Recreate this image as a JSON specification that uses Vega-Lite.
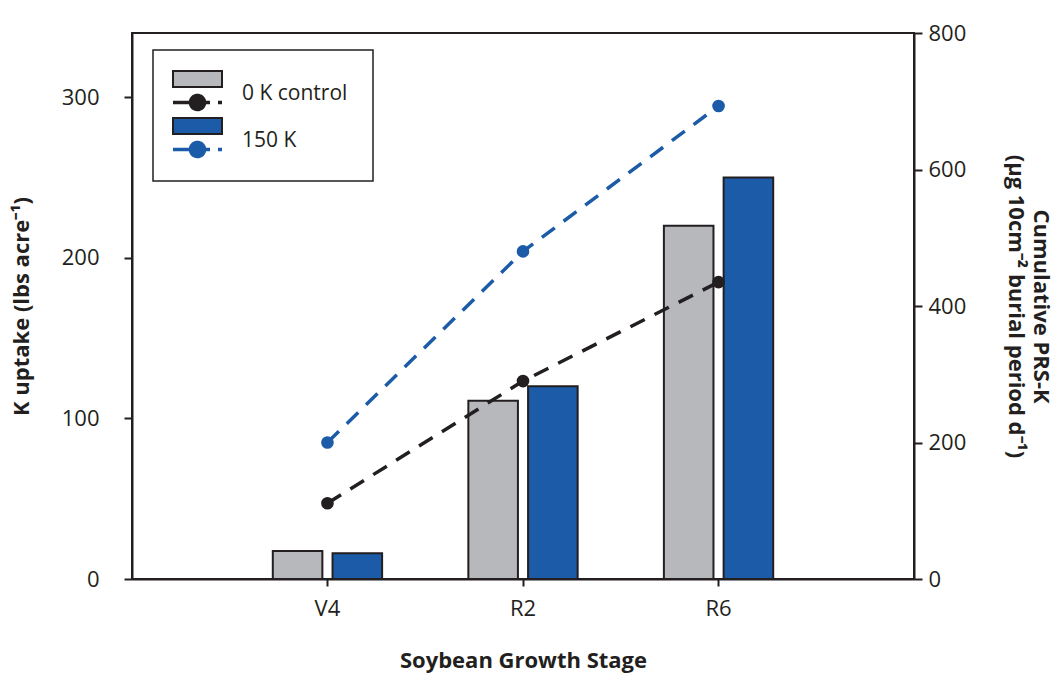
{
  "$schema": "https://vega.github.io/schema/vega-lite/v6.json",
  "width": 782,
  "height": 546,
  "autosize": {"type": "none"},
  "padding": {"left": 132, "top": 33, "right": 144, "bottom": 95},
  "background": "white",
  "datasets": {
    "uptake": [
      {"stage": "V4", "treatment": "0 K control", "uptake": 17.5},
      {"stage": "V4", "treatment": "150 K", "uptake": 16},
      {"stage": "R2", "treatment": "0 K control", "uptake": 111},
      {"stage": "R2", "treatment": "150 K", "uptake": 120},
      {"stage": "R6", "treatment": "0 K control", "uptake": 220},
      {"stage": "R6", "treatment": "150 K", "uptake": 250}
    ],
    "prs": [
      {"stage": "V4", "series": "0 K control", "prs": 111},
      {"stage": "R2", "series": "0 K control", "prs": 290},
      {"stage": "R6", "series": "0 K control", "prs": 435},
      {"stage": "V4", "series": "150 K", "prs": 200},
      {"stage": "R2", "series": "150 K", "prs": 480},
      {"stage": "R6", "series": "150 K", "prs": 693}
    ]
  },
  "encoding": {
    "x": {
      "field": "stage",
      "type": "nominal",
      "sort": ["V4", "R2", "R6"],
      "scale": {"paddingInner": 0.441, "paddingOuter": 0.72},
      "axis": {
        "title": "Soybean Growth Stage",
        "labelAngle": 0,
        "tickSize": 7,
        "labelPadding": 12,
        "labelDx": -14,
        "titlePadding": 31,
        "bandPosition": 0.5
      }
    }
  },
  "layer": [
    {
      "data": {"name": "uptake"},
      "mark": {"type": "bar", "stroke": "#231f20", "strokeWidth": 2},
      "encoding": {
        "xOffset": {
          "field": "treatment",
          "type": "nominal",
          "sort": ["0 K control", "150 K"],
          "scale": {"paddingInner": 0.17, "paddingOuter": 0}
        },
        "y": {
          "field": "uptake",
          "type": "quantitative",
          "scale": {"domain": [0, 340], "nice": false},
          "axis": {
            "title": "K uptake (lbs acre⁻¹)",
            "values": [0, 100, 200, 300],
            "labelPadding": 25,
            "titlePadding": 28
          }
        },
        "fill": {
          "field": "treatment",
          "type": "nominal",
          "scale": {"domain": ["0 K control", "150 K"], "range": ["#b7b8bb", "#1b5ba8"]},
          "legend": {
            "orient": "none",
            "legendX": 21,
            "legendY": 17,
            "title": null,
            "symbolType": "M-3.267,-1.92H3.267V0.213H-3.267ZM0,2.57",
            "symbolSize": 225,
            "symbolStrokeColor": "#231f20",
            "symbolStrokeWidth": 2,
            "symbolOpacity": 1,
            "symbolOffset": 9,
            "labelOffset": 34,
            "labelFont": "Open Sans",
            "labelFontSize": 21,
            "labelColor": "#231f20",
            "labelBaseline": "top",
            "rowPadding": 5,
            "padding": 25,
            "strokeColor": "#231f20",
            "encode": {
              "legend": {"update": {"strokeWidth": {"value": 1.5}}},
              "labels": {"update": {"dy": {"value": -3}}}
            }
          }
        }
      }
    },
    {
      "data": {"name": "prs"},
      "mark": {
        "type": "line",
        "strokeWidth": 3.5,
        "strokeDash": [16, 11],
        "point": {"filled": true, "size": 160, "opacity": 1}
      },
      "encoding": {
        "y": {
          "field": "prs",
          "type": "quantitative",
          "scale": {"domain": [0, 800], "nice": false},
          "axis": {
            "orient": "right",
            "title": ["Cumulative PRS-K", "(µg 10cm⁻² burial period d⁻¹)"],
            "values": [0, 200, 400, 600, 800],
            "labelPadding": 6,
            "titlePadding": 38,
            "titleLineHeight": 25
          }
        },
        "color": {
          "field": "series",
          "type": "nominal",
          "scale": {"range": ["#231f20", "#1b5ba8"]},
          "legend": {
            "orient": "none",
            "legendX": 21,
            "legendY": 59,
            "title": null,
            "symbolType": "M-3.267,0H-0.933M0.933,0H1.667M2.733,0H3.267M-0.933,0A0.933,0.933 0 1 1 0.933,0A0.933,0.933 0 1 1 -0.933,0Z",
            "symbolSize": 225,
            "symbolStrokeWidth": 3.5,
            "symbolOffset": 34,
            "labelOffset": 34,
            "labelFont": "Open Sans",
            "labelFontSize": 21,
            "labelExpr": "''",
            "rowPadding": 18,
            "padding": 0,
            "encode": {
              "symbols": {
                "update": {
                  "fill": {"scale": "color", "field": "value"},
                  "stroke": {"scale": "color", "field": "value"},
                  "strokeDash": {"value": [1, 0]},
                  "opacity": {"value": 1}
                }
              }
            }
          }
        }
      }
    }
  ],
  "resolve": {"scale": {"y": "independent"}},
  "config": {
    "font": "Open Sans",
    "view": {"stroke": "#231f20", "strokeWidth": 2},
    "axis": {
      "labelFont": "Open Sans",
      "labelFontSize": 22,
      "labelColor": "#231f20",
      "titleFont": "Open Sans",
      "titleFontSize": 22,
      "titleFontWeight": "bold",
      "titleColor": "#231f20",
      "domainColor": "#231f20",
      "domainWidth": 2,
      "tickColor": "#231f20",
      "tickWidth": 2,
      "tickSize": 8,
      "grid": false
    }
  }
}
